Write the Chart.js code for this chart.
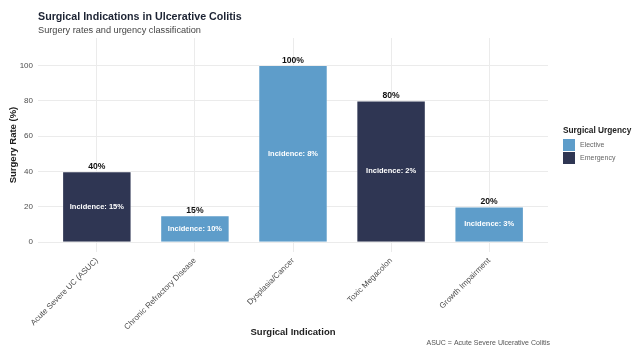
<!DOCTYPE html>
<html>
<head>
<meta charset="utf-8">
<script src="https://cdn.jsdelivr.net/npm/chart.js@4"></script>
<style>
  html, body { margin: 0; padding: 0; background: #fff; }
  #wrap { width: 632px; height: 347px; }
</style>
</head>
<body>
<div id="wrap"><canvas id="myChart" width="632" height="347"></canvas></div>
<script>
const categorias = ['Acute Severe UC (ASUC)', 'Chronic Refractory Disease', 'Dysplasia/Cancer', 'Toxic Megacolon', 'Growth Impairment'];
const tasaCirugia = [40, 15, 100, 80, 20];
const incidencia = [15, 10, 8, 2, 3];
const urgencia = ['Emergency', 'Elective', 'Elective', 'Emergency', 'Elective'];
const tiposUrgencia = ['Elective', 'Emergency'];
const colores = { Elective: '#5e9dca', Emergency: '#2f3653' };
const yTicks = [0, 20, 40, 60, 80, 100];

const FUENTE = "'Liberation Sans', Arial, sans-serif";

// un dataset por tipo de urgencia, cada barra en su posicion de categoria (1..5)
const datasets = tiposUrgencia.map(tipo => ({
    label: tipo,
    data: categorias
        .map((c, i) => ({ x: i + 1, y: tasaCirugia[i], inc: incidencia[i], tipo: urgencia[i] }))
        .filter(p => p.tipo === tipo),
    backgroundColor: colores[tipo],
    borderColor: 'rgba(255,255,255,0.7)',
    borderWidth: 0.6,
    grouped: false,
    barPercentage: 0.7,
    categoryPercentage: 1
}));

// textos fijos: titulo, subtitulo, leyenda y nota
const textos = {
    id: 'textos',
    afterDraw(chart) {
        const c = chart.ctx;
        const left = chart.chartArea.left;
        c.save();
        c.textAlign = 'left';
        c.textBaseline = 'alphabetic';
        c.fillStyle = '#1c2333';
        c.font = 'bold 10.7px ' + FUENTE;
        c.fillText('Surgical Indications in Ulcerative Colitis', left, 20);
        c.fillStyle = '#444';
        c.font = '9.2px ' + FUENTE;
        c.fillText('Surgery rates and urgency classification', left, 33);

        // leyenda
        const lx = 563;
        c.fillStyle = '#222';
        c.font = 'bold 8.3px ' + FUENTE;
        c.fillText('Surgical Urgency', lx, 133);
        chart.data.datasets.forEach((ds, i) => {
            const y = 139 + i * 13;
            c.fillStyle = ds.backgroundColor;
            c.fillRect(lx, y, 12, 12);
            c.fillStyle = '#666';
            c.font = '7px ' + FUENTE;
            c.textBaseline = 'middle';
            c.fillText(ds.label, lx + 17, y + 6.5);
            c.textBaseline = 'alphabetic';
        });

        // nota al pie
        c.textAlign = 'right';
        c.fillStyle = '#555';
        c.font = '7px ' + FUENTE;
        c.fillText('ASUC = Acute Severe Ulcerative Colitis', chart.chartArea.right + 2, 345);
        c.restore();
    }
};

// porcentaje arriba de la barra e incidencia adentro
const etiquetas = {
    id: 'etiquetas',
    afterDatasetsDraw(chart) {
        const c = chart.ctx;
        c.save();
        c.textAlign = 'center';
        chart.data.datasets.forEach((ds, di) => {
            chart.getDatasetMeta(di).data.forEach((bar, i) => {
                const p = ds.data[i];
                c.fillStyle = '#111';
                c.font = 'bold 8.6px ' + FUENTE;
                c.textBaseline = 'bottom';
                c.fillText(p.y + '%', bar.x, bar.y - 0.5);
                c.fillStyle = '#fff';
                c.font = 'bold 7.5px ' + FUENTE;
                c.textBaseline = 'middle';
                c.fillText('Incidence: ' + p.inc + '%', bar.x, (bar.y + bar.base) / 2);
            });
        });
        c.restore();
    }
};

const ctx = document.getElementById('myChart').getContext('2d');
const myChart = new Chart(ctx, {
    type: 'bar',
    data: { datasets },
    options: {
        responsive: false,
        animation: false,
        layout: { padding: { top: 38, right: 84, left: 0, bottom: 0 } },
        plugins: {
            legend: { display: false },
            tooltip: { enabled: false }
        },
        scales: {
            x: {
                type: 'linear',
                min: 0.4,
                max: 5.6,
                offset: false,
                afterBuildTicks: scale => { scale.ticks = categorias.map((c, i) => ({ value: i + 1 })); },
                afterFit: scale => { scale.height = 95; },
                grid: { color: '#ebebeb', lineWidth: 1, drawTicks: false, offset: false },
                border: { display: false },
                ticks: {
                    autoSkip: false,
                    maxRotation: 45,
                    minRotation: 45,
                    padding: 4,
                    color: '#4d4d4d',
                    font: { family: FUENTE, size: 8 },
                    callback: v => categorias[v - 1]
                },
                title: {
                    display: true,
                    text: 'Surgical Indication',
                    color: '#222',
                    font: { family: FUENTE, size: 9.5, weight: 'bold' },
                    padding: { top: 0, bottom: 9 }
                }
            },
            y: {
                min: -5.5,
                max: 115.5,
                afterBuildTicks: scale => { scale.ticks = yTicks.map(v => ({ value: v })); },
                afterFit: scale => { scale.width = 38; },
                grid: { color: '#ebebeb', lineWidth: 1, drawTicks: false },
                border: { display: false },
                ticks: {
                    padding: 5,
                    color: '#4d4d4d',
                    font: { family: FUENTE, size: 8 }
                },
                title: {
                    display: true,
                    text: 'Surgery Rate (%)',
                    color: '#222',
                    font: { family: FUENTE, size: 9.5, weight: 'bold' },
                    padding: { top: 8, bottom: 0 }
                }
            }
        }
    },
    plugins: [etiquetas, textos]
});
</script>
</body>
</html>
